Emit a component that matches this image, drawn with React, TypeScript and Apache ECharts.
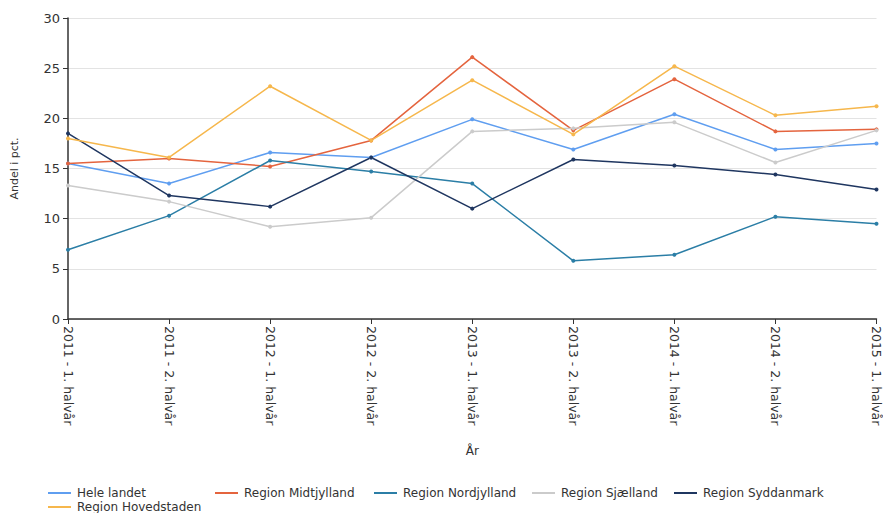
import React, { useEffect, useRef } from "react";
import * as echarts from "echarts";

const categories = [
  "2011 - 1. halvår",
  "2011 - 2. halvår",
  "2012 - 1. halvår",
  "2012 - 2. halvår",
  "2013 - 1. halvår",
  "2013 - 2. halvår",
  "2014 - 1. halvår",
  "2014 - 2. halvår",
  "2015 - 1. halvår",
];

const heleLandet = [15.5, 13.5, 16.6, 16.1, 19.9, 16.9, 20.4, 16.9, 17.5];
const midtjylland = [15.5, 16.0, 15.2, 17.8, 26.1, 18.8, 23.9, 18.7, 18.9];
const nordjylland = [6.9, 10.3, 15.8, 14.7, 13.5, 5.8, 6.4, 10.2, 9.5];
const sjaelland = [13.3, 11.7, 9.2, 10.1, 18.7, 19.0, 19.6, 15.6, 18.8];
const syddanmark = [18.5, 12.3, 11.2, 16.1, 11.0, 15.9, 15.3, 14.4, 12.9];
const hovedstaden = [18.0, 16.1, 23.2, 17.8, 23.8, 18.4, 25.2, 20.3, 21.2];

const seriesDefs = [
  { name: "Hele landet", data: heleLandet, color: "#5f9ef0" },
  { name: "Region Midtjylland", data: midtjylland, color: "#e4643e" },
  { name: "Region Nordjylland", data: nordjylland, color: "#2b7ea6" },
  { name: "Region Sjælland", data: sjaelland, color: "#cbcbcb" },
  { name: "Region Syddanmark", data: syddanmark, color: "#1f3660" },
  { name: "Region Hovedstaden", data: hovedstaden, color: "#f6b74c" },
];

const legendPos = [
  { left: 48, top: 487 },
  { left: 215, top: 487 },
  { left: 374, top: 487 },
  { left: 532, top: 487 },
  { left: 674, top: 487 },
  { left: 48, top: 501 },
];

export default function App() {
  const ref = useRef<HTMLDivElement>(null);
  useEffect(() => {
    if (!ref.current) return;
    const chart = echarts.init(ref.current, undefined, { renderer: "svg" });
    const font = "DejaVu Sans, Verdana, sans-serif";
    chart.setOption({
      animation: false,
      backgroundColor: "#ffffff",
      grid: { left: 68, right: 6, top: 18, bottom: 194, containLabel: false },
      legend: seriesDefs.map((s, i) => ({
        data: [s.name],
        left: legendPos[i].left,
        top: legendPos[i].top,
        padding: 0,
        orient: "horizontal",
        icon: "rect",
        itemWidth: 23,
        itemHeight: 2,
        itemGap: 6,
        selectedMode: false,
        textStyle: { color: "#333", fontSize: 12, fontFamily: font, padding: [0, 0, 0, 1] },
      })),
      xAxis: {
        type: "category",
        data: categories,
        boundaryGap: false,
        name: "År",
        nameLocation: "middle",
        nameGap: 126,
        nameTextStyle: { color: "#333", fontSize: 12, fontFamily: font },
        axisLine: { show: true, lineStyle: { color: "#333", width: 1.5 } },
        axisTick: { show: true, length: 5, alignWithLabel: true, lineStyle: { color: "#333" } },
        axisLabel: {
          rotate: -90,
          color: "#333",
          fontSize: 12.5,
          fontFamily: font,
          margin: 7,
          interval: 0,
        },
        splitLine: { show: false },
      },
      yAxis: {
        type: "value",
        min: 0,
        max: 30,
        interval: 5,
        name: "Andel i pct.",
        nameLocation: "middle",
        nameGap: 48,
        nameRotate: 90,
        nameTextStyle: { color: "#333", fontSize: 11, fontFamily: font },
        axisLine: { show: true, lineStyle: { color: "#333", width: 1.5 } },
        axisTick: { show: true, length: 5, lineStyle: { color: "#333" } },
        axisLabel: { color: "#333", fontSize: 13, fontFamily: font, margin: 8 },
        splitLine: { show: true, lineStyle: { color: "#e3e3e3", width: 1 } },
      },
      series: seriesDefs.map((s) => ({
        name: s.name,
        type: "line",
        data: s.data,
        color: s.color,
        symbol: "circle",
        symbolSize: 4,
        showSymbol: true,
        lineStyle: { width: 1.5, color: s.color },
        itemStyle: { color: s.color },
        emphasis: { disabled: true },
      })),
    });
    return () => chart.dispose();
  }, []);
  return <div ref={ref} style={{ width: 883, height: 513, position: "absolute", left: 0, top: 0 }} />;
}
